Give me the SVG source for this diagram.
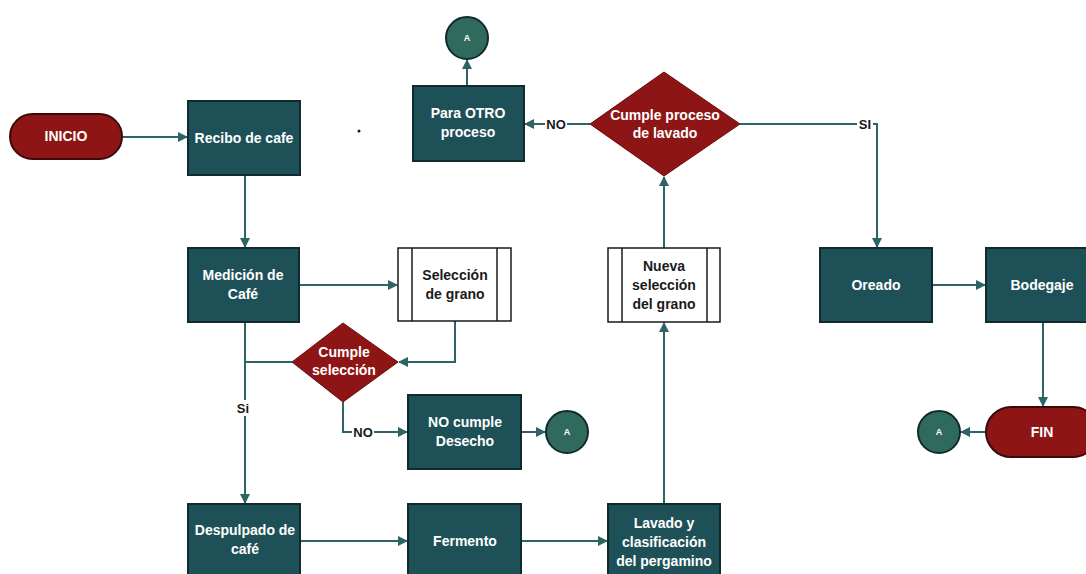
<svg xmlns="http://www.w3.org/2000/svg" width="1086" height="574" viewBox="0 0 1086 574">
<style>
.box{fill:#1e5157;stroke:#0f2b2e;stroke-width:2}
.sub{fill:#ffffff;stroke:#1a1a1a;stroke-width:1.5}
.term{fill:#8e1515;stroke:#3a0a0a;stroke-width:2}
.dec{fill:#8e1515;stroke:#6a0e0e;stroke-width:1}
.conn{fill:#2f6a5d;stroke:#0f2b2e;stroke-width:2}
.wt{fill:#ffffff;font-family:"Liberation Sans",Arial,sans-serif;font-weight:bold;font-size:14px;text-anchor:middle}
.bt{fill:#1a1a1a;font-family:"Liberation Sans",Arial,sans-serif;font-weight:bold;font-size:14px;text-anchor:middle}
.lbl{fill:#1a1a1a;font-family:"Liberation Sans",Arial,sans-serif;font-weight:bold;font-size:13px;text-anchor:middle}
.ct{fill:#ffffff;font-family:"Liberation Sans",Arial,sans-serif;font-weight:bold;font-size:9px;text-anchor:middle}
.ln{fill:none;stroke:#2e6466;stroke-width:2}
</style>
<defs>
<marker id="ah" viewBox="0 0 10 10" refX="9" refY="5" markerWidth="10" markerHeight="10" markerUnits="userSpaceOnUse" orient="auto">
<path d="M0,0 L10,5 L0,10 z" fill="#2e6466"/>
</marker>
</defs>
<rect width="1086" height="574" fill="#ffffff"/>
<g id="connectors">
<path class="ln" d="M122,137 H187" marker-end="url(#ah)"/>
<path class="ln" d="M245,175 V247" marker-end="url(#ah)"/>
<path class="ln" d="M299,285 H397" marker-end="url(#ah)"/>
<path class="ln" d="M455,321 V362 H399" marker-end="url(#ah)"/>
<path class="ln" d="M292,362 H245"/>
<path class="ln" d="M245,322 V503" marker-end="url(#ah)"/>
<path class="ln" d="M343,402 V432 H407" marker-end="url(#ah)"/>
<path class="ln" d="M521,432 H545" marker-end="url(#ah)"/>
<path class="ln" d="M300,541 H407" marker-end="url(#ah)"/>
<path class="ln" d="M521,541 H607" marker-end="url(#ah)"/>
<path class="ln" d="M664,504 V323" marker-end="url(#ah)"/>
<path class="ln" d="M664,248 V177" marker-end="url(#ah)"/>
<path class="ln" d="M590,124 H525" marker-end="url(#ah)"/>
<path class="ln" d="M467,86 V60" marker-end="url(#ah)"/>
<path class="ln" d="M740,124 H877 V247" marker-end="url(#ah)"/>
<path class="ln" d="M932,285 H985" marker-end="url(#ah)"/>
<path class="ln" d="M1043,322 V406" marker-end="url(#ah)"/>
<path class="ln" d="M986,432 H961" marker-end="url(#ah)"/>
<rect x="231" y="400" width="24" height="16" fill="#ffffff"/>
<text class="lbl" x="243" y="413">Si</text>
<rect x="352" y="425" width="22" height="15" fill="#ffffff"/>
<text class="lbl" x="363" y="437">NO</text>
<rect x="545" y="117" width="22" height="15" fill="#ffffff"/>
<text class="lbl" x="556" y="129">NO</text>
<rect x="857" y="117" width="16" height="15" fill="#ffffff"/>
<text class="lbl" x="865" y="129">SI</text>
</g>
<g id="inicio"><rect class="term" x="10" y="114" width="112" height="45" rx="22.5"/><text class="wt" x="66" y="141">INICIO</text></g>
<g id="recibo"><rect class="box" x="188" y="101" width="112" height="74"/><text class="wt" x="244" y="143">Recibo de cafe</text></g>
<g id="medicion"><rect class="box" x="188" y="248" width="111" height="74"/><text class="wt" x="243" y="280">Medición de</text><text class="wt" x="243" y="299">Café</text></g>
<g id="seleccion"><rect class="sub" x="398" y="248" width="113" height="73"/><line x1="412" y1="248" x2="412" y2="321" stroke="#1a1a1a" stroke-width="1.5"/><line x1="497" y1="248" x2="497" y2="321" stroke="#1a1a1a" stroke-width="1.5"/><text class="bt" x="455" y="280">Selección</text><text class="bt" x="455" y="299">de grano</text></g>
<g id="cumple-seleccion"><polygon class="dec" points="343,323 398,362 343,402 292,362"/><text class="wt" x="344" y="357">Cumple</text><text class="wt" x="344" y="375">selección</text></g>
<g id="no-cumple"><rect class="box" x="408" y="395" width="113" height="74"/><text class="wt" x="465" y="427">NO cumple</text><text class="wt" x="465" y="446">Desecho</text></g>
<g id="a1"><circle class="conn" cx="567" cy="432" r="21"/><text class="ct" x="567" y="435">A</text></g>
<g id="despulpado"><rect class="box" x="188" y="504" width="112" height="78"/><text class="wt" x="245" y="535">Despulpado de</text><text class="wt" x="245" y="554">café</text></g>
<g id="fermento"><rect class="box" x="408" y="504" width="113" height="78"/><text class="wt" x="465" y="546">Fermento</text></g>
<g id="lavado"><rect class="box" x="608" y="504" width="112" height="78"/><text class="wt" x="664" y="528">Lavado y</text><text class="wt" x="664" y="547">clasificación</text><text class="wt" x="664" y="566">del pergamino</text></g>
<g id="nueva-seleccion"><rect class="sub" x="608" y="248" width="112" height="74"/><line x1="622" y1="248" x2="622" y2="322" stroke="#1a1a1a" stroke-width="1.5"/><line x1="707" y1="248" x2="707" y2="322" stroke="#1a1a1a" stroke-width="1.5"/><text class="bt" x="664" y="271">Nueva</text><text class="bt" x="664" y="290">selección</text><text class="bt" x="664" y="309">del grano</text></g>
<g id="cumple-lavado"><polygon class="dec" points="664,72 740,124 664,176 590,124"/><text class="wt" x="665" y="120">Cumple proceso</text><text class="wt" x="665" y="138">de lavado</text></g>
<g id="para-otro"><rect class="box" x="413" y="86" width="111" height="75"/><text class="wt" x="468" y="118">Para OTRO</text><text class="wt" x="468" y="137">proceso</text></g>
<g id="a2"><circle class="conn" cx="467" cy="38" r="21"/><text class="ct" x="467" y="41">A</text></g>
<g id="oreado"><rect class="box" x="820" y="248" width="112" height="74"/><text class="wt" x="876" y="290">Oreado</text></g>
<g id="bodegaje"><rect class="box" x="986" y="248" width="112" height="74"/><text class="wt" x="1042" y="290">Bodegaje</text></g>
<g id="fin"><rect class="term" x="986" y="407" width="112" height="50" rx="25"/><text class="wt" x="1042" y="437">FIN</text></g>
<g id="a3"><circle class="conn" cx="939" cy="432" r="21"/><text class="ct" x="939" y="435">A</text></g>
<circle cx="359" cy="131" r="1.5" fill="#1a1a1a"/>
</svg>
